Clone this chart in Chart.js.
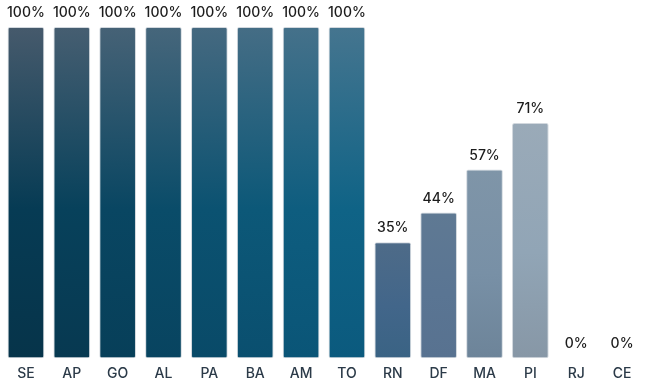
<!DOCTYPE html>
<html>
<head>
<meta charset="utf-8">
<script src="https://cdn.jsdelivr.net/npm/chart.js@4"></script>
<style>
  html, body { margin: 0; padding: 0; background: #fff; }
  #wrap { width: 647px; height: 386px; }
</style>
</head>
<body>
<div id="wrap"><canvas id="barChart"></canvas></div>
<script>
// States and their share (%)
const states = ['SE', 'AP', 'GO', 'AL', 'PA', 'BA', 'AM', 'TO', 'RN', 'DF', 'MA', 'PI', 'RJ', 'CE'];
const shares = [100, 100, 100, 100, 100, 100, 100, 100, 35, 44, 57, 71, 0, 0];

// gradient colours per bar, [top, middle, bottom]
function mix(a, b, t) {
  const pa = a.match(/\w\w/g).map(h => parseInt(h, 16));
  const pb = b.match(/\w\w/g).map(h => parseInt(h, 16));
  return 'rgb(' + pa.map((v, i) => Math.round(v + (pb[i] - v) * t)).join(',') + ')';
}
const barColors = states.map((s, i) => {
  if (i < 8) {
    const t = i / 7;
    return [mix('465a6c', '45758f', t), mix('063b54', '0f6386', t), mix('06344a', '0b5a7e', t)];
  }
  const light = [
    ['4e6b88', '42668a', '3a6384'],
    ['5f7993', '5a7593', '587290'],
    ['7f95a8', '7890a6', '6d8499'],
    ['9aaab8', '91a5b6', '8797a6'],
    ['9aaab8', '91a5b6', '8797a6'],
    ['9aaab8', '91a5b6', '8797a6']
  ];
  return light[i - 8].map(c => '#' + c);
});

const ctx = document.getElementById('barChart').getContext('2d');

const valueLabels = {
  id: 'valueLabels',
  afterDatasetsDraw(chart) {
    const c = chart.ctx;
    const meta = chart.getDatasetMeta(0);
    c.save();
    c.font = '500 14px Inter';
    c.fillStyle = '#1c1c1c';
    c.textAlign = 'center';
    c.textBaseline = 'middle';
    meta.data.forEach((bar, i) => {
      c.fillText(shares[i] + '%', bar.x, bar.y - 14);
    });
    c.restore();
  }
};

new Chart(ctx, {
  type: 'bar',
  data: {
    labels: states,
    datasets: [{
      data: shares,
      backgroundColor: (context) => {
        const chart = context.chart;
        const area = chart.chartArea;
        const col = barColors[context.dataIndex];
        if (!area) return col[2];
        const yTop = chart.scales.y.getPixelForValue(shares[context.dataIndex]);
        const g = chart.ctx.createLinearGradient(0, yTop, 0, area.bottom);
        g.addColorStop(0, col[0]);
        g.addColorStop(0.55, col[1]);
        g.addColorStop(1, col[2]);
        return g;
      },
      borderColor: 'rgba(205, 212, 218, 0.9)',
      borderWidth: 1,
      borderSkipped: false,
      borderRadius: 2,
      barPercentage: 0.8,
      categoryPercentage: 1
    }]
  },
  options: {
    responsive: true,
    maintainAspectRatio: false,
    animation: false,
    layout: { padding: { top: 27, left: 3, right: 2, bottom: -3 } },
    plugins: {
      legend: { display: false },
      tooltip: { enabled: false }
    },
    scales: {
      x: {
        grid: { display: false, drawTicks: false },
        border: { display: false },
        ticks: {
          color: '#2b3a48',
          padding: 7,
          font: { family: 'Inter', size: 14, weight: '500' }
        }
      },
      y: {
        display: false,
        min: 0,
        max: 100
      }
    }
  },
  plugins: [valueLabels]
});
</script>
</body>
</html>
